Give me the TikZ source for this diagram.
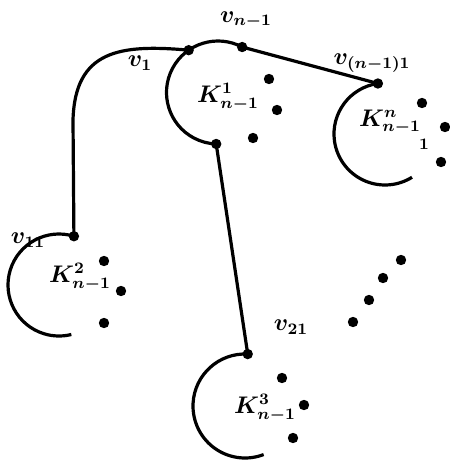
\documentclass[tikz,border=0pt]{standalone}
\usepackage{bm}
\begin{document}
\begin{tikzpicture}[x=0.5pt,y=-0.5pt,
  edge/.style={line width=1.6pt},
  vdot/.style={circle,fill=black,inner sep=0pt,minimum size=5.2pt},
  lbl/.style={inner sep=0pt,font=\fontsize{12}{14}\selectfont}]
\useasboundingbox (0,0) rectangle (450,462);
% centres of the half-circles
\coordinate (c1) at (218,92.5);
\coordinate (cn) at (385,134);
\coordinate (c2) at (59,285);
\coordinate (c3) at (245,406);
% vertices
\path (c1) ++(-62:51.5) node[vdot] (vn1) {};
\path (c1) ++(-124.7:51.5) node[vdot] (v1) {};
\path (c1) ++(-268:51.5) node[vdot] (b1) {};
\path (cn) ++(-98:51) node[vdot] (vnn) {};
\path (c2) ++(-73:51) node[vdot] (v11) {};
\path (c3) ++(-87:52) node[vdot] (v21) {};
% arcs
\draw[edge] (vn1.center) arc[start angle=-62,end angle=-268,radius=51.5];
\draw[edge] (vnn.center) arc[start angle=-98,end angle=-302,radius=51];
\draw[edge] (v11.center) arc[start angle=-73,end angle=-284,radius=51];
\draw[edge] (v21.center) arc[start angle=-87,end angle=-291,radius=52];
% connectors
\draw[edge] (vn1.center) -- (vnn.center);
\draw[edge] (b1.center) -- (v21.center);
\draw[edge] (v1.center) .. controls (120,44) and (75,50) .. (73,120) -- (v11.center);
% dots inside components
\node[vdot] (d11) at (269,79) {};
\node[vdot] (d12) at (277,110) {};
\node[vdot] (d13) at (253,138) {};
\node[vdot] (dn1) at (422,103) {};
\node[vdot] (dn2) at (445,127) {};
\node[vdot] (dn3) at (441,162) {};
\node[vdot] (d21) at (104,261) {};
\node[vdot] (d22) at (121,291) {};
\node[vdot] (d23) at (104,323) {};
\node[vdot] (d31) at (282,378) {};
\node[vdot] (d32) at (304,405) {};
\node[vdot] (d33) at (293,438) {};
% ellipsis
\node[vdot] (e1) at (401,260) {};
\node[vdot] (e2) at (383,278) {};
\node[vdot] (e3) at (369,300) {};
\node[vdot] (e4) at (353,322) {};
% labels
\node[lbl] (lv1) at (140,63) {$\bm{v_1}$};
\node[lbl] (lvn1) at (246,20) {$\bm{v_{n-1}}$};
\node[lbl] (lvnn) at (372,63) {$\bm{v_{(n-1)1}}$};
\node[lbl] (lk1) at (228,97) {$\bm{K^1_{n-1}}$};
\node[lbl] (lkn) at (390,122) {$\bm{K^n_{n-1}}$};
\node[lbl] (lkn1) at (424,144) {$\scriptstyle\bm{1}$};
\node[lbl] (lv11) at (28,240) {$\bm{v_{11}}$};
\node[lbl] (lk2) at (80,277) {$\bm{K^2_{n-1}}$};
\node[lbl] (lv21) at (291,327) {$\bm{v_{21}}$};
\node[lbl] (lk3) at (265,408) {$\bm{K^3_{n-1}}$};
\end{tikzpicture}
\end{document}
